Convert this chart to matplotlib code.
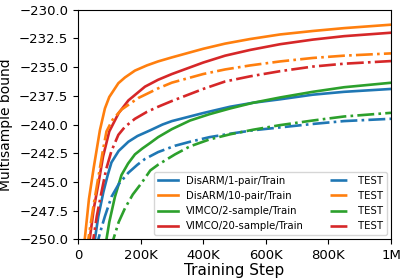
import numpy as np
import matplotlib
matplotlib.use('Agg')
import matplotlib.pyplot as plt
from matplotlib.ticker import FuncFormatter

# steps in thousands
ot_x = [14, 22, 35, 50, 70, 86, 100, 129, 150, 182, 220, 256, 300, 400, 470, 550, 646, 750, 850, 1000]
ot_y = [-251, -249.9, -246.5, -243.8, -240.5, -238.6, -237.6, -236.4, -235.9, -235.3, -234.85, -234.5,
        -234.15, -233.4, -232.95, -232.55, -232.15, -231.85, -231.6, -231.3]

rt_x = [30, 38, 50, 65, 80, 100, 130, 161, 214, 256, 300, 400, 470, 550, 646, 750, 850, 1000]
rt_y = [-251, -249.9, -247.4, -245.2, -242.8, -240.6, -239.0, -237.9, -236.7, -236.1, -235.6, -234.6,
        -234.0, -233.5, -233.0, -232.6, -232.3, -232.0]

od_x = [28, 33, 50, 65, 80, 91, 110, 139, 192, 256, 300, 400, 470, 550, 646, 750, 850, 1000]
od_y = [-251, -250, -247.0, -244.6, -242.2, -240.6, -239.6, -238.7, -237.7, -236.85, -236.35, -235.6,
        -235.2, -234.85, -234.5, -234.2, -234.0, -233.8]

rd_x = [42, 49, 60, 75, 90, 107, 129, 150, 182, 220, 256, 300, 400, 470, 550, 646, 750, 850, 1000]
rd_y = [-251, -250, -248.0, -245.9, -243.9, -242.3, -240.9, -240.2, -239.5, -238.9, -238.45, -237.95,
        -236.9, -236.25, -235.8, -235.35, -234.95, -234.7, -234.47]

bt_x = [48, 54, 65, 81, 95, 107, 130, 161, 190, 231, 270, 300, 400, 486, 560, 646, 750, 850, 1000]
bt_y = [-251, -250, -248.0, -245.9, -244.4, -243.3, -242.3, -241.5, -241.0, -240.5, -240.0, -239.7,
        -239.0, -238.45, -238.1, -237.8, -237.4, -237.15, -236.9]

gt_x = [84, 91, 100, 118, 139, 160, 182, 205, 231, 256, 300, 358, 420, 486, 560, 646, 750, 850, 1000]
gt_y = [-251.5, -250, -248.5, -246.3, -244.4, -243.4, -242.6, -242.1, -241.6, -241.1, -240.4, -239.65,
        -239.1, -238.6, -238.1, -237.64, -237.15, -236.75, -236.36]

bd_x = [58, 65, 75, 86, 107, 130, 161, 190, 214, 256, 310, 358, 420, 486, 560, 646, 750, 850, 1000]
bd_y = [-251, -250, -249.0, -248.0, -246.3, -245.2, -244.2, -243.5, -243.0, -242.4, -241.85, -241.5,
        -241.1, -240.8, -240.5, -240.25, -239.95, -239.7, -239.5]

gd_x = [105, 113, 130, 150, 175, 203, 231, 256, 310, 358, 420, 486, 560, 646, 750, 850, 1000]
gd_y = [-251, -250, -248.5, -247.3, -246.1, -245.1, -244.0, -243.5, -242.6, -241.9, -241.3, -240.85,
        -240.45, -240.05, -239.65, -239.3, -238.98]

train_labels = ['DisARM/1-pair/Train', 'DisARM/10-pair/Train',
                'VIMCO/2-sample/Train', 'VIMCO/20-sample/Train']

fig = plt.figure(figsize=(4.07, 2.79), dpi=100)
ax = fig.add_axes([0.1916, 0.1423, 0.7691, 0.8227])

lw = 1.9
# train curves
ax.plot(np.array(bt_x) * 1000, bt_y, color='tab:blue', lw=lw, label=train_labels[0])
ax.plot(np.array(ot_x) * 1000, ot_y, color='tab:orange', lw=lw, label=train_labels[1])
ax.plot(np.array(gt_x) * 1000, gt_y, color='tab:green', lw=lw, label=train_labels[2])
ax.plot(np.array(rt_x) * 1000, rt_y, color='tab:red', lw=lw, label=train_labels[3])
# test curves
ax.plot(np.array(bd_x) * 1000, bd_y, color='tab:blue', lw=lw, ls='-.', label='TEST')
ax.plot(np.array(od_x) * 1000, od_y, color='tab:orange', lw=lw, ls='-.', label='TEST')
ax.plot(np.array(gd_x) * 1000, gd_y, color='tab:green', lw=lw, ls='-.', label='TEST')
ax.plot(np.array(rd_x) * 1000, rd_y, color='tab:red', lw=lw, ls='-.', label='TEST')

ax.set_xlim(0, 1e6)
ax.set_ylim(-250, -230)
ax.set_xticks([0, 2e5, 4e5, 6e5, 8e5, 1e6])
ax.xaxis.set_major_formatter(FuncFormatter(
    lambda v, p: '0' if v == 0 else ('1M' if v >= 1e6 else f'{int(v / 1000)}K')))
ax.set_yticks(np.arange(-250, -229, 2.5))
ax.yaxis.set_major_formatter(FuncFormatter(lambda v, p: f'{v:.1f}'.replace('-', '\u2212')))
ax.tick_params(labelsize=9.5)

ax.set_xlabel('Training Step', fontsize=11, labelpad=1)
ax.set_ylabel('Multisample bound', fontsize=10)

ax.legend(ncol=2, loc='lower right', fontsize=7.3, columnspacing=2.5,
          borderaxespad=0.4)

fig.savefig('out.png', dpi=100)
